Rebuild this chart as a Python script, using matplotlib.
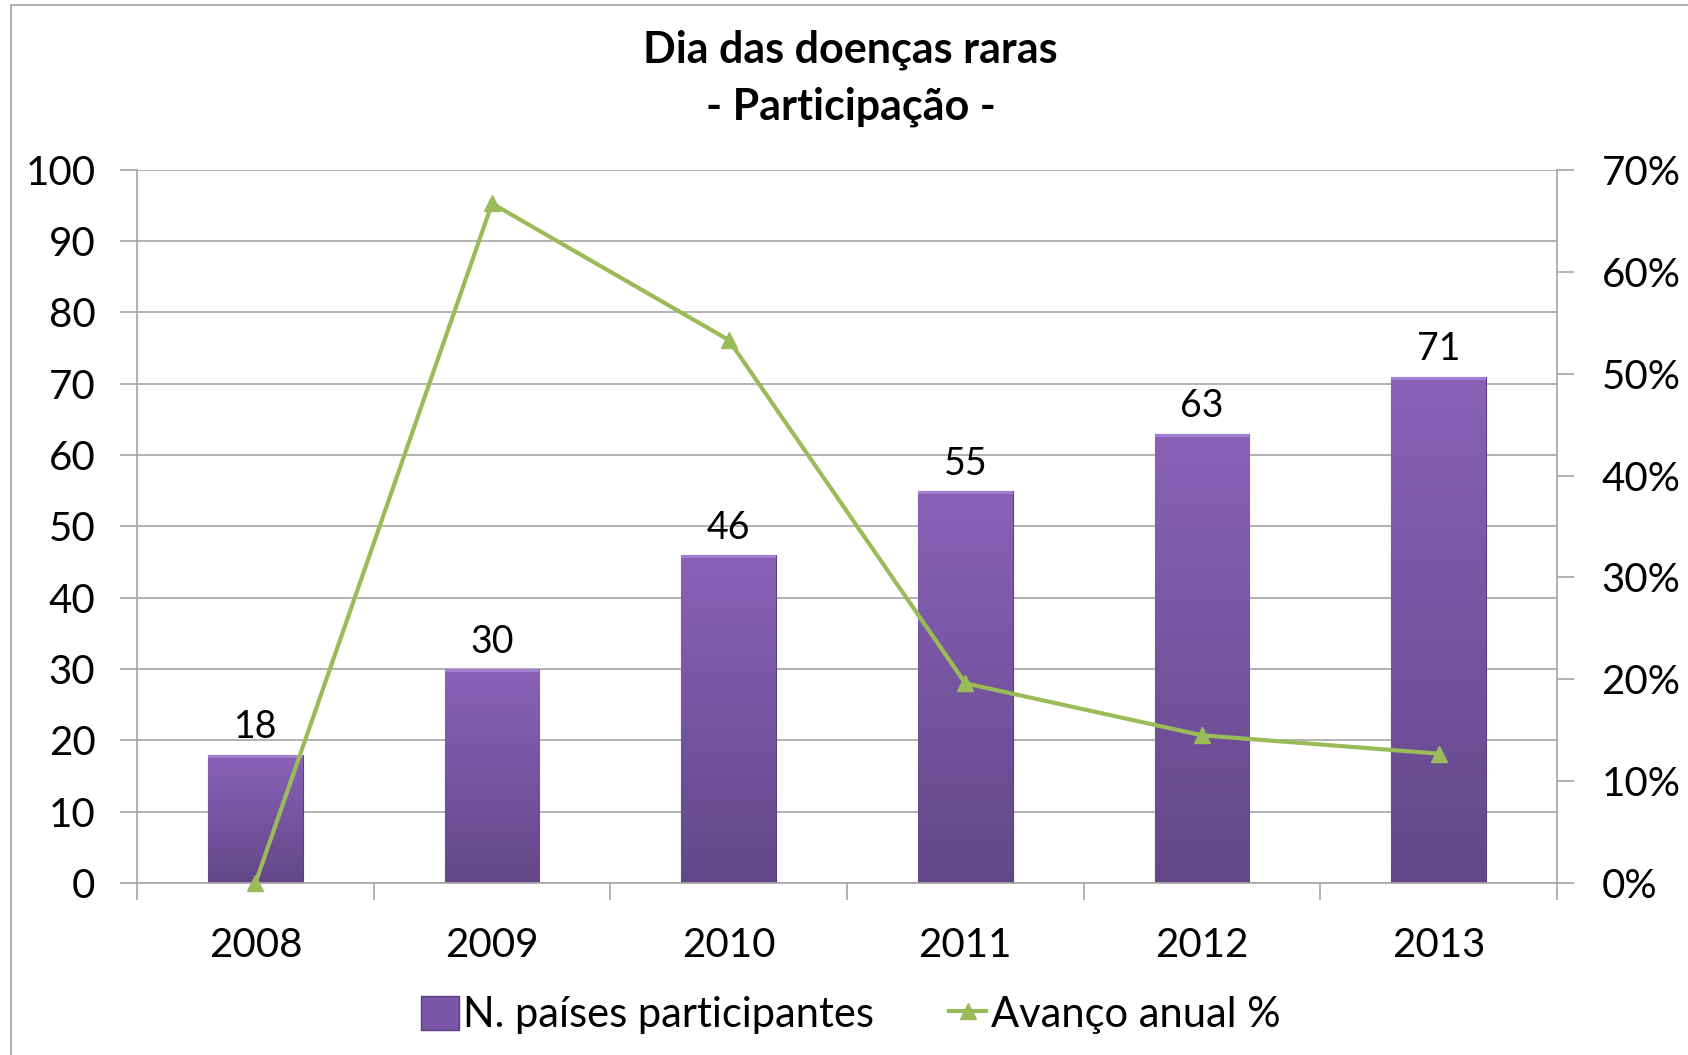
import numpy as np
import matplotlib
matplotlib.use("Agg")
import matplotlib.pyplot as plt
from matplotlib.colors import LinearSegmentedColormap
from matplotlib.lines import Line2D
from matplotlib.patches import Patch, Rectangle

plt.rcParams['font.family'] = ['Lato', 'DejaVu Sans']

# data
years = ['2008', '2009', '2010', '2011', '2012', '2013']
countries = [18, 30, 46, 55, 63, 71]
growth = [0.0, 66.7, 53.3, 19.6, 14.5, 12.7]   # percent

fig = plt.figure(figsize=(16.88, 10.55), dpi=100)
ax = fig.add_axes([0.0812, 0.163, 0.8412, 0.676])

# outer chart frame
fig.patches.append(Rectangle((0.0065, -0.01), 1.2, 1.005, transform=fig.transFigure,
                             fill=False, edgecolor='#a6a6a6', linewidth=1.2))

x = np.arange(len(years))
bars = ax.bar(x, countries, width=0.4, color='#7a56a8', edgecolor='#5a3f80',
              linewidth=0.8, zorder=2)

# vertical gradient fill of the bars
cmap = LinearSegmentedColormap.from_list('purp', ['#634789', '#8962b8'])
grad = np.linspace(0, 1, 256).reshape(-1, 1)
for b in bars:
    x0, y0 = b.get_x(), b.get_y()
    w, h = b.get_width(), b.get_height()
    im = ax.imshow(grad, extent=[x0, x0 + w, y0, y0 + h], origin='lower',
                   aspect='auto', cmap=cmap, zorder=2.1)
    im.set_clip_path(b)
    ax.add_patch(Rectangle((x0, y0 + h - 0.4), w, 0.4, color='#a37fd2', zorder=2.2,
                           linewidth=0))
    ax.text(x0 + w / 2, y0 + h + 1.3, str(int(h)), ha='center', va='bottom',
            fontsize=27, zorder=4)

ax.set_xlim(-0.5, 5.5)
ax.set_ylim(0, 100)
ax.set_yticks(range(0, 101, 10))
ax.set_xticks(x)
ax.set_xticklabels(years)
ax.set_xticks(np.arange(-0.5, 6, 1), minor=True)
ax.tick_params(axis='x', which='major', length=0, labelsize=29, pad=32)
ax.tick_params(axis='x', which='minor', length=12, color='#a6a6a6', width=1.2)
ax.tick_params(axis='y', length=12, color='#a6a6a6', width=1.2, labelsize=29, pad=18)
ax.yaxis.grid(True, color='#a6a6a6', linewidth=1.2, zorder=0)
ax.set_axisbelow(True)
for s in ['top', 'right']:
    ax.spines[s].set_visible(False)
for s in ['left', 'bottom']:
    ax.spines[s].set_color('#a6a6a6')
    ax.spines[s].set_linewidth(1.2)

ax2 = ax.twinx()
ax2.plot(x, growth, color='#9bbb59', linewidth=3, marker='^', markersize=11, zorder=5,
         clip_on=False)
ax2.set_ylim(0, 70)
ax2.set_yticks(range(0, 71, 10))
ax2.set_yticklabels([f'{v}%' for v in range(0, 71, 10)])
ax2.tick_params(axis='y', length=12, color='#a6a6a6', width=1.2, labelsize=29, pad=20)
for s in ['top', 'left', 'bottom']:
    ax2.spines[s].set_visible(False)
ax2.spines['right'].set_color('#a6a6a6')
ax2.spines['right'].set_linewidth(1.2)

fig.text(0.504, 0.953, 'Dia das doenças raras', ha='center', va='center',
         fontsize=31, fontweight='bold')
fig.text(0.504, 0.899, '- Participação -', ha='center', va='center',
         fontsize=31, fontweight='bold')

handles = [Patch(facecolor='#7a56a8', edgecolor='#5a3f80'),
           Line2D([], [], color='#9bbb59', linewidth=3, marker='^', markersize=11)]
fig.legend(handles, ['N. países participantes', 'Avanço anual %'], loc='center',
           bbox_to_anchor=(0.504, 0.038), ncol=2, frameon=False, fontsize=30,
           handlelength=0.9, handleheight=0.9, handletextpad=0.1, columnspacing=1.8)

fig.savefig('out.png', dpi=100)
